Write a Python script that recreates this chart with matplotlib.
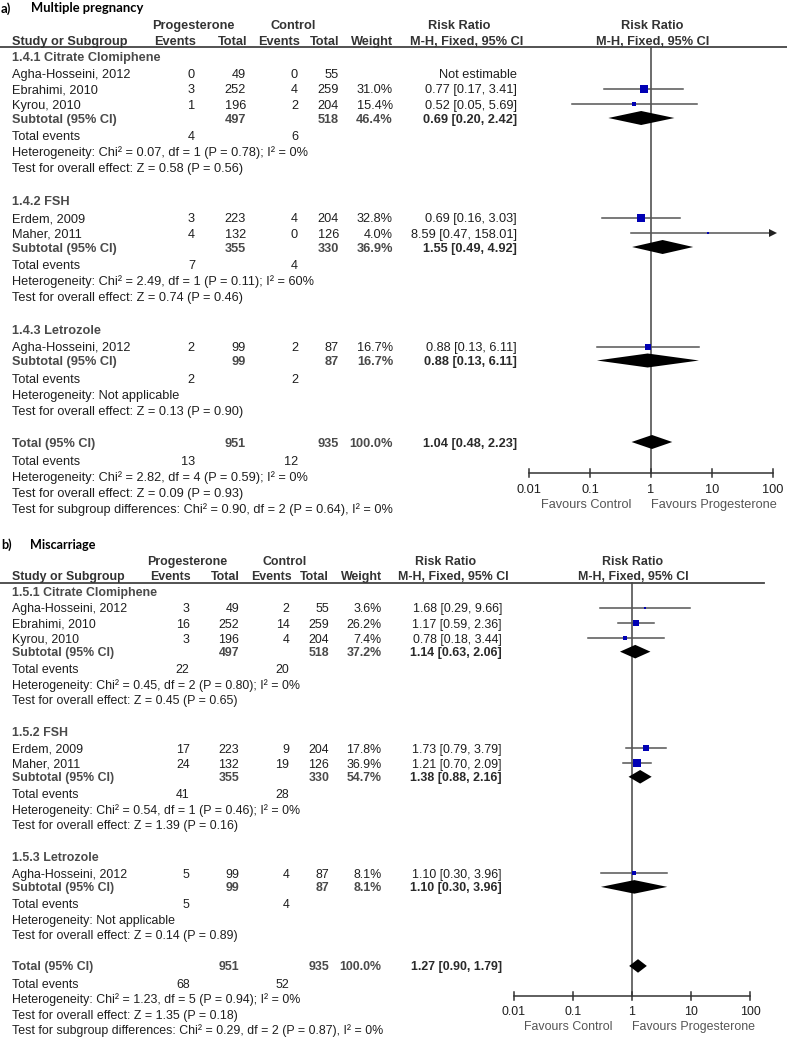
import numpy as np
import matplotlib
matplotlib.use("Agg")
import matplotlib.pyplot as plt

plt.rcParams["font.family"] = ["Liberation Sans", "DejaVu Sans"]

# ---- a) Multiple pregnancy ----
groups_a = ["1.4.1 Citrate Clomiphene", "1.4.2 FSH", "1.4.3 Letrozole"]
study_a = ["Agha-Hosseini, 2012", "Ebrahimi, 2010", "Kyrou, 2010",
           "Erdem, 2009", "Maher, 2011", "Agha-Hosseini, 2012"]
grp_a = [0, 0, 0, 1, 1, 2]
evp_a = [0, 3, 1, 3, 4, 2]
totp_a = [49, 252, 196, 223, 132, 99]
evc_a = [0, 4, 2, 4, 0, 2]
totc_a = [55, 259, 204, 204, 126, 87]
w_a = [None, 31.0, 15.4, 32.8, 4.0, 16.7]
rr_a = [None, 0.77, 0.52, 0.69, 8.59, 0.88]
lo_a = [None, 0.17, 0.05, 0.16, 0.47, 0.13]
hi_a = [None, 3.41, 5.69, 3.03, 158.01, 6.11]
sub_totp_a = [497, 355, 99]
sub_totc_a = [518, 330, 87]
sub_w_a = [46.4, 36.9, 16.7]
sub_rr_a = [0.69, 1.55, 0.88]
sub_lo_a = [0.20, 0.49, 0.13]
sub_hi_a = [2.42, 4.92, 6.11]
sub_evp_a = [4, 7, 2]
sub_evc_a = [6, 4, 2]
sub_het_a = ["Chi² = 0.07, df = 1 (P = 0.78); I² = 0%",
             "Chi² = 2.49, df = 1 (P = 0.11); I² = 60%",
             "Not applicable"]
sub_z_a = ["Z = 0.58 (P = 0.56)", "Z = 0.74 (P = 0.46)", "Z = 0.13 (P = 0.90)"]
tot_a = dict(totp=951, totc=935, w=100.0, rr=1.04, lo=0.48, hi=2.23, evp=13, evc=12,
             het="Chi² = 2.82, df = 4 (P = 0.59); I² = 0%", z="Z = 0.09 (P = 0.93)",
             diff="Chi² = 0.90, df = 2 (P = 0.64), I² = 0%")

# ---- b) Miscarriage ----
groups_b = ["1.5.1 Citrate Clomiphene", "1.5.2 FSH", "1.5.3 Letrozole"]
study_b = study_a
grp_b = grp_a
evp_b = [3, 16, 3, 17, 24, 5]
totp_b = [49, 252, 196, 223, 132, 99]
evc_b = [2, 14, 4, 9, 19, 4]
totc_b = [55, 259, 204, 204, 126, 87]
w_b = [3.6, 26.2, 7.4, 17.8, 36.9, 8.1]
rr_b = [1.68, 1.17, 0.78, 1.73, 1.21, 1.10]
lo_b = [0.29, 0.59, 0.18, 0.79, 0.70, 0.30]
hi_b = [9.66, 2.36, 3.44, 3.79, 2.09, 3.96]
sub_totp_b = [497, 355, 99]
sub_totc_b = [518, 330, 87]
sub_w_b = [37.2, 54.7, 8.1]
sub_rr_b = [1.14, 1.38, 1.10]
sub_lo_b = [0.63, 0.88, 0.30]
sub_hi_b = [2.06, 2.16, 3.96]
sub_evp_b = [22, 41, 5]
sub_evc_b = [20, 28, 4]
sub_het_b = ["Chi² = 0.45, df = 2 (P = 0.80); I² = 0%",
             "Chi² = 0.54, df = 1 (P = 0.46); I² = 0%",
             "Not applicable"]
sub_z_b = ["Z = 0.45 (P = 0.65)", "Z = 1.39 (P = 0.16)", "Z = 0.14 (P = 0.89)"]
tot_b = dict(totp=951, totc=935, w=100.0, rr=1.27, lo=0.90, hi=1.79, evp=68, evc=52,
             het="Chi² = 1.23, df = 5 (P = 0.94); I² = 0%", z="Z = 1.35 (P = 0.18)",
             diff="Chi² = 0.29, df = 2 (P = 0.87), I² = 0%")

ticks = [0.01, 0.1, 1, 10, 100]
tick_labels = ["0.01", "0.1", "1", "10", "100"]

W, H = 787, 1041
fig = plt.figure(figsize=(W / 100, H / 100), dpi=100)
base = fig.add_axes([0, 0, 1, 1])
base.set_xlim(0, W)
base.set_ylim(H, 0)
base.axis("off")

NORM = "#1e1e1e"
BOLD = "#4a4a4a"
HEAD = "#333333"
LINE = "#555555"
BLUE = "#0000b4"


def fmt_ci(r, l, h):
    return "{:.2f} [{:.2f}, {:.2f}]".format(r, l, h)


def draw_panel(x0, y0, s, letter, title, groups, study, grp, evp, totp, evc, totc,
               w, rr, lo, hi, sub_totp, sub_totc, sub_w, sub_rr, sub_lo, sub_hi,
               sub_evp, sub_evc, sub_het, sub_z, tot):
    X = lambda x: x0 + x * s
    Y = lambda y: y0 + y * s
    fs = 9.2 * s
    off = 4.6 * s  # baseline sits half a cap height below the row centre

    def t(x, y, txt, ha="left", bold=False, color=NORM):
        base.text(X(x), Y(y) + off, txt, ha=ha, va="baseline", fontsize=fs,
                  fontweight="bold" if bold else "normal", color=color)

    # column right edges
    c_evp, c_totp, c_evc, c_totc, c_w, c_rr = 195, 246, 298, 339, 393, 517

    # title
    base.text(X(1), Y(8) + 4.4 * s, letter, ha="left", va="baseline",
              fontsize=9.4 * s, fontweight="bold", family="Lato", color="black")
    base.text(X(31), Y(8) + 4.4 * s, title, ha="left", va="baseline",
              fontsize=9.4 * s, fontweight="bold", family="Lato", color="black")

    # headers
    t(193, 24, "Progesterone", "center", True, HEAD)
    t(293, 24, "Control", "center", True, HEAD)
    t(459, 24, "Risk Ratio", "center", True, HEAD)
    t(652, 24, "Risk Ratio", "center", True, HEAD)
    t(12, 40, "Study or Subgroup", "left", True, HEAD)
    t(c_evp + 1, 40, "Events", "right", True, HEAD)
    t(c_totp + 1, 40, "Total", "right", True, HEAD)
    t(c_evc + 2, 40, "Events", "right", True, HEAD)
    t(c_totc, 40, "Total", "right", True, HEAD)
    t(c_w, 40, "Weight", "right", True, HEAD)
    t(467, 40, "M-H, Fixed, 95% CI", "center", True, HEAD)
    t(653, 40, "M-H, Fixed, 95% CI", "center", True, HEAD)
    base.plot([X(0), X(787)], [Y(47), Y(47)], color="#444444", lw=1.3)

    # forest axes
    xl, xr = X(529), X(773)
    fa = fig.add_axes([xl / W, 0, (xr - xl) / W, 1])
    fa.set_xscale("log")
    fa.set_xlim(0.01, 100)
    fa.set_ylim(H, 0)
    fa.axis("off")

    def row_study(i, y):
        t(12, y, study[i])
        t(c_evp, y, str(evp[i]), "right")
        t(c_totp, y, str(totp[i]), "right")
        t(c_evc, y, str(evc[i]), "right")
        t(c_totc, y, str(totc[i]), "right")
        if rr[i] is None:
            t(c_rr, y, "Not estimable", "right")
            return
        t(c_w, y, "{:.1f}%".format(w[i]), "right")
        t(c_rr, y, fmt_ci(rr[i], lo[i], hi[i]), "right")
        yy = Y(y)
        h = min(hi[i], 100)
        fa.plot([lo[i], h], [yy, yy], color=LINE, lw=1.1, clip_on=False, zorder=2)
        if hi[i] > 100:
            fa.plot([h], [yy], marker=">", ms=5.5 * s, color="#222222", mew=0,
                    clip_on=False, zorder=3)
        side = max(2.2, 1.27 * np.sqrt(w[i])) * s * 0.72
        fa.plot([rr[i]], [yy], marker="s", ms=side, color=BLUE, mew=0,
                clip_on=False, zorder=4)

    def diamond(r, l, h, y):
        yy = Y(y)
        d = 7 * s
        fa.fill([l, r, h, r], [yy, yy - d, yy, yy + d], color="black", lw=0,
                zorder=4, clip_on=False)

    y = 56
    for g in range(len(groups)):
        if g:
            y += 33
        t(12, y, groups[g], bold=True, color=BOLD)
        idx = [i for i in range(len(grp)) if grp[i] == g]
        y += 17
        for k, i in enumerate(idx):
            if k:
                y += 15.5
            row_study(i, y)
        y += 14
        t(12, y, "Subtotal (95% CI)", bold=True, color=BOLD)
        t(c_totp, y, str(sub_totp[g]), "right", True, BOLD)
        t(c_totc, y, str(sub_totc[g]), "right", True, BOLD)
        t(c_w, y, "{:.1f}%".format(sub_w[g]), "right", True, BOLD)
        t(c_rr, y, fmt_ci(sub_rr[g], sub_lo[g], sub_hi[g]), "right", True, "#2a2a2a")
        diamond(sub_rr[g], sub_lo[g], sub_hi[g], y)
        y += 17.5
        t(12, y, "Total events")
        t(c_evp, y, str(sub_evp[g]), "right")
        t(c_evc, y, str(sub_evc[g]), "right")
        y += 16
        t(12, y, "Heterogeneity: " + sub_het[g])
        y += 16
        t(12, y, "Test for overall effect: " + sub_z[g])

    y += 32
    t(12, y, "Total (95% CI)", bold=True, color=BOLD)
    t(c_totp, y, str(tot["totp"]), "right", True, BOLD)
    t(c_totc, y, str(tot["totc"]), "right", True, BOLD)
    t(c_w, y, "{:.1f}%".format(tot["w"]), "right", True, BOLD)
    t(c_rr, y, fmt_ci(tot["rr"], tot["lo"], tot["hi"]), "right", True, "#2a2a2a")
    diamond(tot["rr"], tot["lo"], tot["hi"], y)
    y += 18
    t(12, y, "Total events")
    t(c_evp, y, str(tot["evp"]), "right")
    t(c_evc, y, str(tot["evc"]), "right")
    y += 16
    t(12, y, "Heterogeneity: " + tot["het"])
    y += 16
    t(12, y, "Test for overall effect: " + tot["z"])
    y += 16
    t(12, y, "Test for subgroup differences: " + tot["diff"])

    # null line and scale
    fa.plot([1, 1], [Y(47), Y(473)], color="#444444", lw=1.1, clip_on=False, zorder=1)
    fa.plot([ticks[0], ticks[-1]], [Y(473), Y(473)], color="#333333", lw=1.1,
            clip_on=False)
    for tv, tl in zip(ticks, tick_labels):
        fa.plot([tv, tv], [Y(469), Y(477)], color="#333333", lw=1.1, clip_on=False)
        fa.text(tv, Y(488) + off, tl, ha="center", va="baseline", fontsize=fs,
                color=NORM)
    t(631, 503, "Favours Control", "right", color="#555555")
    t(651, 503, "Favours Progesterone", "left", color="#555555")


draw_panel(0, 0, 1.0, "a)", "Multiple pregnancy", groups_a, study_a, grp_a, evp_a,
           totp_a, evc_a, totc_a, w_a, rr_a, lo_a, hi_a, sub_totp_a, sub_totc_a,
           sub_w_a, sub_rr_a, sub_lo_a, sub_hi_a, sub_evp_a, sub_evc_a, sub_het_a,
           sub_z_a, tot_a)
draw_panel(0.4, 537.2, 0.97, "b)", "Miscarriage", groups_b, study_b, grp_b, evp_b,
           totp_b, evc_b, totc_b, w_b, rr_b, lo_b, hi_b, sub_totp_b, sub_totc_b,
           sub_w_b, sub_rr_b, sub_lo_b, sub_hi_b, sub_evp_b, sub_evc_b, sub_het_b,
           sub_z_b, tot_b)

fig.savefig("out.png", dpi=100)
